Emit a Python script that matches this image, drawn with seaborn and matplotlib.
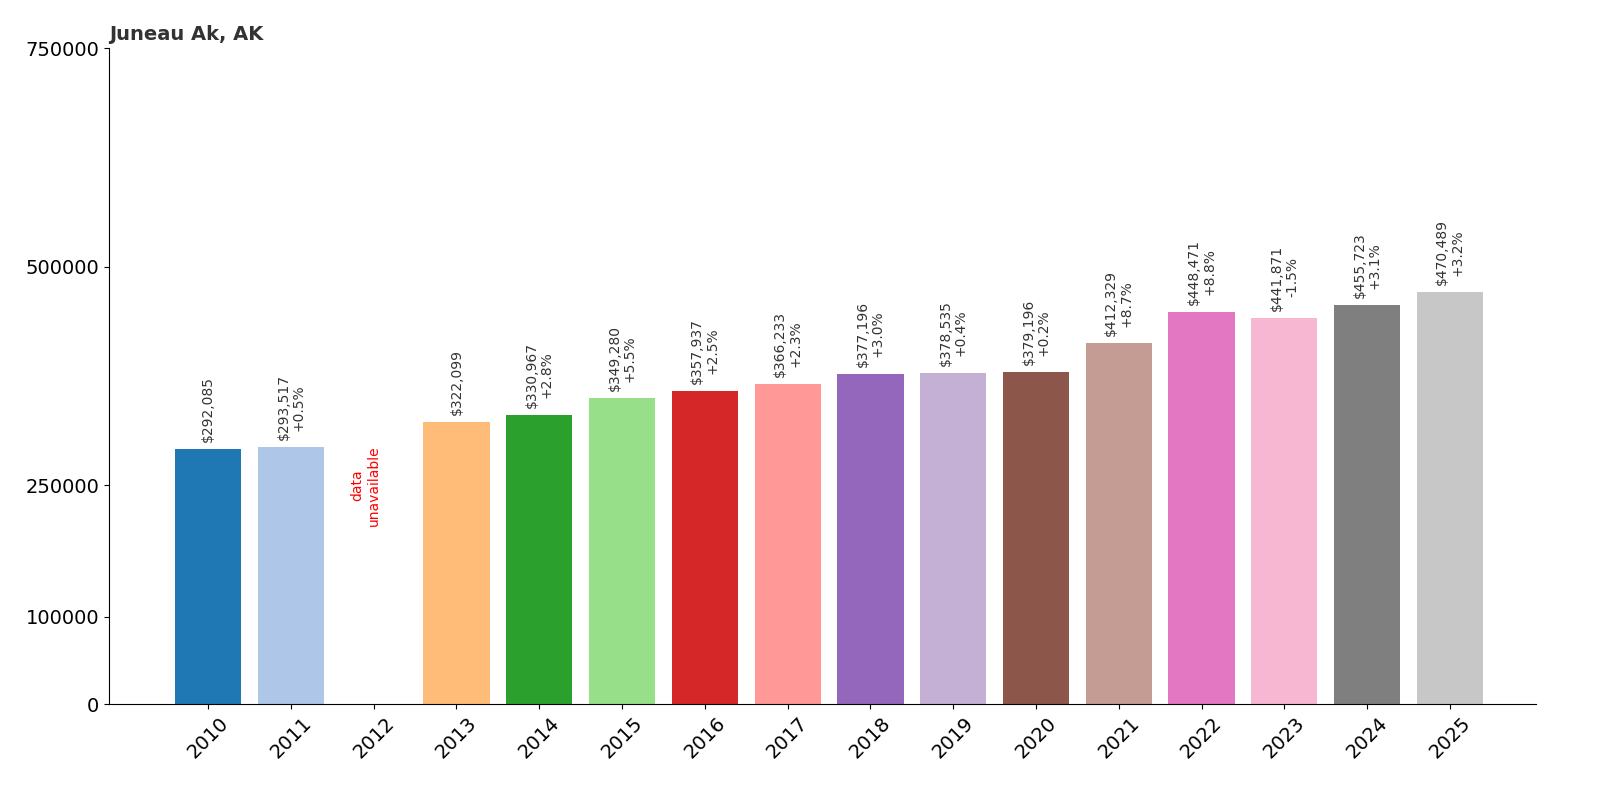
import matplotlib
matplotlib.use("Agg")
import matplotlib.pyplot as plt
import seaborn as sns
import pandas as pd
import numpy as np

years = ["2010","2011","2012","2013","2014","2015","2016","2017","2018","2019","2020","2021","2022","2023","2024","2025"]
values = [292085, 293517, np.nan, 322099, 330967, 349280, 357937, 366233, 377196, 378535, 379196, 412329, 448471, 441871, 455723, 470489]
changes = [None, "+0.5%", None, None, "+2.8%", "+5.5%", "+2.5%", "+2.3%", "+3.0%", "+0.4%", "+0.2%", "+8.7%", "+8.8%", "-1.5%", "+3.1%", "+3.2%"]
yticks = [0, 100000, 250000, 500000, 750000]

df = pd.DataFrame({"year": years, "value": values})
palette = sns.color_palette("tab20", 20)[:len(years)]

fig, ax = plt.subplots(figsize=(16, 8), dpi=100)
fig.subplots_adjust(left=0.068, right=0.96, top=0.94, bottom=0.12)
sns.barplot(data=df, x="year", y="value", hue="year", palette=palette, legend=False, ax=ax, width=0.8, saturation=1)

for i, (v, c) in enumerate(zip(values, changes)):
    if np.isnan(v):
        ax.text(i - 0.1, 250000, "data\nunavailable", rotation=90, color="red", ha="center", va="center", fontsize=10)
        continue
    label = f"${v:,.0f}" + (f"\n{c}" if c else "")
    ax.text(i, v + 8000, label, rotation=90, ha="center", va="bottom", fontsize=10, color="#333333", linespacing=1.1)

ax.set_xlim(-1.2, 16.04)
ax.set_ylim(0, 750000)
ax.set_yticks(yticks)
ax.set_yticklabels([str(t) for t in yticks], fontsize=14)
ax.tick_params(axis="x", labelsize=14, rotation=45)
ax.set_xlabel("")
ax.set_ylabel("")
ax.spines["top"].set_visible(False)
ax.spines["right"].set_visible(False)
ax.set_title("Juneau Ak, AK", loc="left", fontsize=14, fontweight="bold", color="#333333", x=0.0, y=1.0)
fig.savefig("out.png")
